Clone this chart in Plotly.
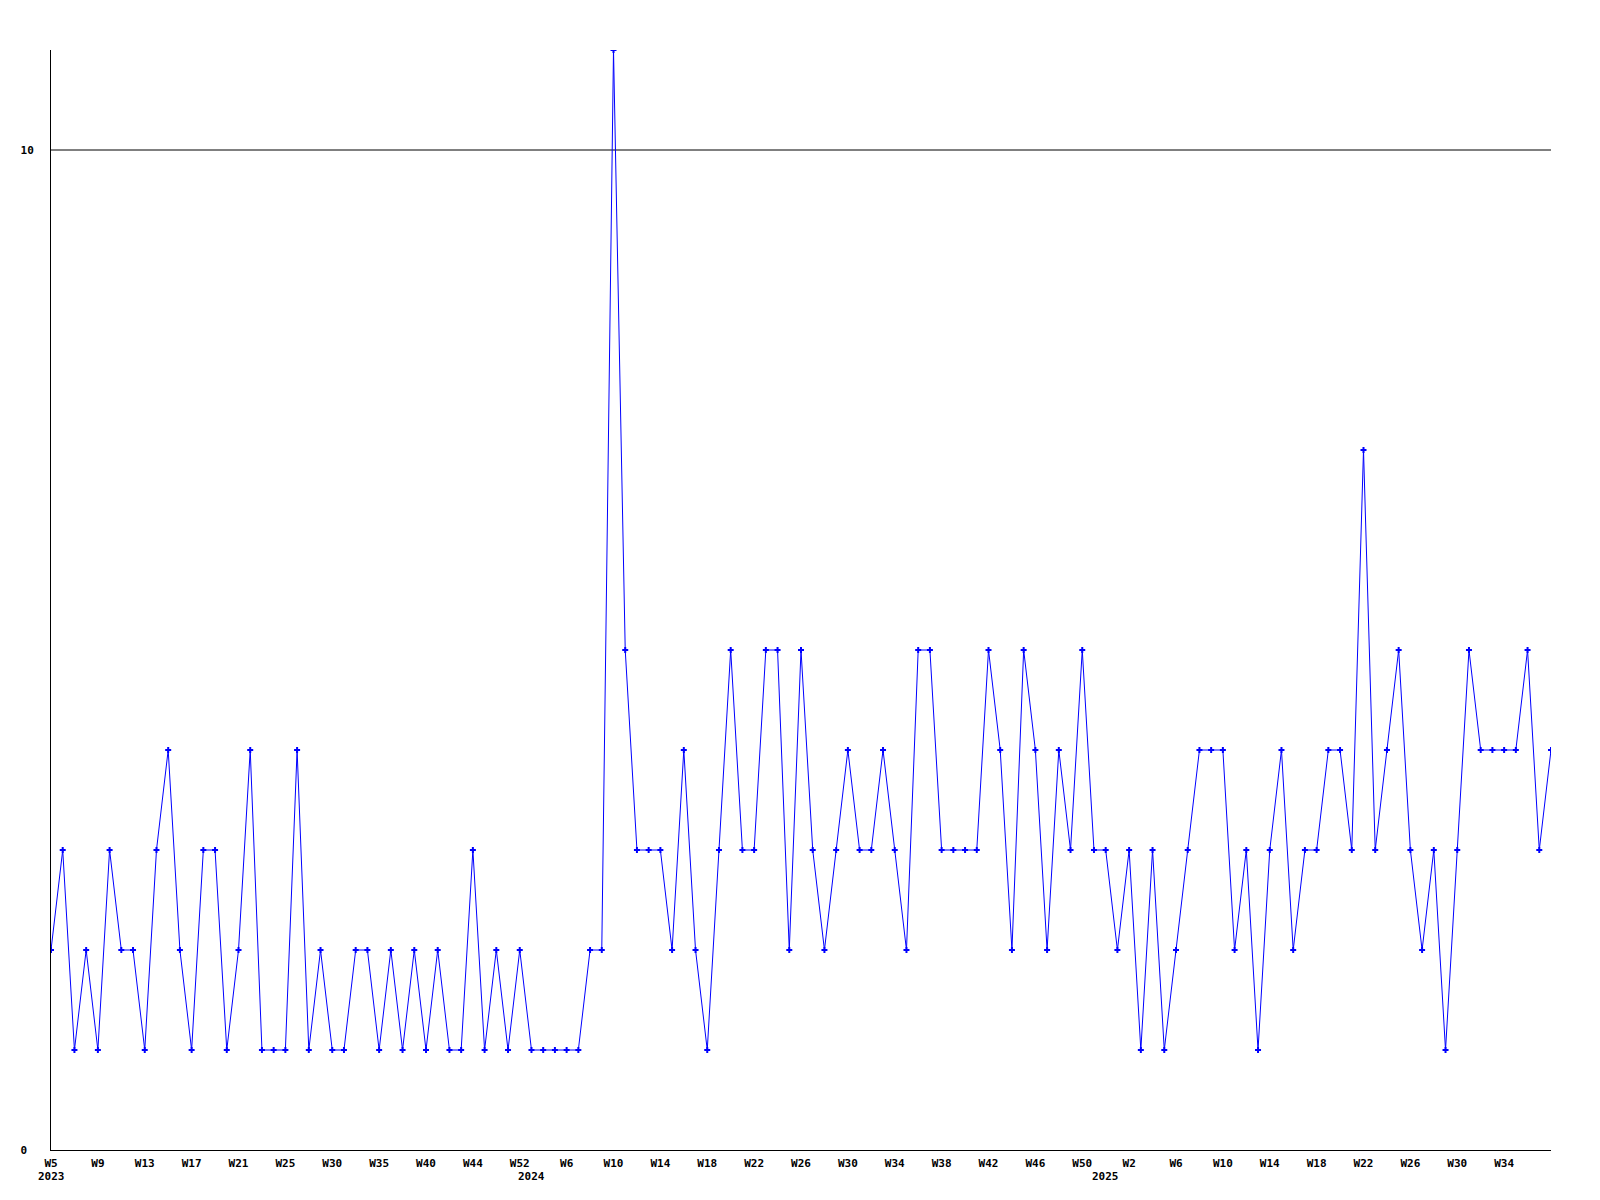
import plotly.graph_objects as go

# weekly counts, one point per week shown
values = [
    2, 3, 1, 2, 1, 3, 2, 2, 1, 3, 4, 2, 1, 3, 3, 1, 2, 4, 1, 1,
    1, 4, 1, 2, 1, 1, 2, 2, 1, 2, 1, 2, 1, 2, 1, 1, 3, 1, 2, 1,
    2, 1, 1, 1, 1, 1, 2, 2, 11,
    5, 3, 3, 3, 2, 4, 2, 1, 3, 5, 3, 3, 5, 5, 2, 5, 3, 2, 3, 4,
    3, 3, 4, 3, 2, 5, 5, 3, 3, 3, 3, 5, 4, 2, 5, 4, 2, 4,
    3, 5, 3, 3, 2, 3, 1, 3, 1, 2, 3, 4, 4, 4, 2, 3, 1, 3, 4, 2,
    3, 3, 4, 4, 3, 7, 3, 4, 5, 3, 2, 3, 1, 3, 5, 4, 4, 4, 4, 5,
    3, 4,
]
x_index = list(range(len(values)))

# labels every 4th point
week_ticks = list(range(0, 125, 4))
week_labels = [
    'W5', 'W9', 'W13', 'W17', 'W21', 'W25', 'W30', 'W35', 'W40', 'W44', 'W52',
    'W6', 'W10', 'W14', 'W18', 'W22', 'W26', 'W30', 'W34', 'W38', 'W42', 'W46', 'W50',
    'W2', 'W6', 'W10', 'W14', 'W18', 'W22', 'W26', 'W30', 'W34',
]
year_pos = [0, 41, 90]
year_labels = ['2023', '2024', '2025']

y_ticks = [0, 10]
y_labels = ['0\u00a0', '10']

FONT = dict(family='DejaVu Sans Mono', size=11, color='black', weight='bold')

fig = go.Figure(go.Scatter(
    x=x_index,
    y=values,
    mode='lines+markers',
    line=dict(color='#0000ff', width=1),
    marker=dict(symbol='cross', size=5, color='#0000ff', line=dict(width=0)),
    hoverinfo='skip',
))

for pos, yr in zip(year_pos, year_labels):
    fig.add_annotation(
        x=pos, y=0, xref='x', yref='paper',
        text=yr, showarrow=False, font=FONT,
        xanchor='center', yanchor='middle', yshift=-26,
    )

# page body adds 8px, margins compensate
fig.update_layout(
    width=1600,
    height=1200,
    margin=dict(l=43, r=57, t=42, b=58),
    paper_bgcolor='white',
    plot_bgcolor='white',
    showlegend=False,
    font=FONT,
    xaxis=dict(
        range=[0, 128],
        tickmode='array',
        tickvals=week_ticks,
        ticktext=week_labels,
        showgrid=False,
        zeroline=False,
        showline=True,
        linecolor='black',
        linewidth=1,
        ticks='',
        ticklabelstandoff=3,
        tickfont=FONT,
        automargin=False,
    ),
    yaxis=dict(
        range=[0, 11],
        tickmode='array',
        tickvals=y_ticks,
        ticktext=y_labels,
        showgrid=False,
        zeroline=False,
        showline=True,
        linecolor='black',
        linewidth=1,
        ticks='',
        ticklabelstandoff=14,
        tickfont=FONT,
        automargin=False,
    ),
)

# horizontal reference line at 10
fig.add_hline(y=10, line=dict(color='black', width=1), layer='below')

fig.write_html('out.html')
